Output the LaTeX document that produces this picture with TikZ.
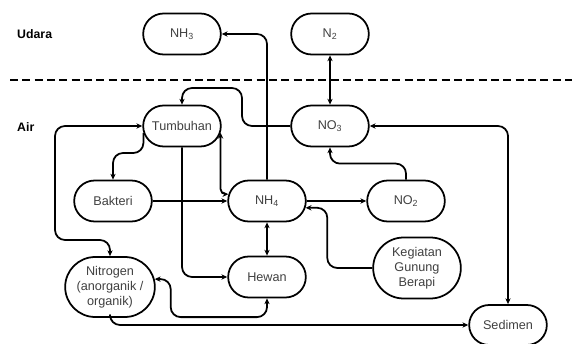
\documentclass[tikz,border=0pt]{standalone}
\usepackage{fontspec}
\setmainfont{Liberation Sans}
\usetikzlibrary{shapes.misc,arrows.meta}
\begin{document}
\begin{tikzpicture}[x=0.3mm,y=-0.3mm,>={Stealth[length=5pt,width=4.5pt]},line join=round,
    box/.style={rounded rectangle,draw,line width=1.5pt,minimum width=24mm,minimum height=12.3mm,
        text=black!75,font=\fontsize{10.8}{12.8}\selectfont,align=center,inner sep=1pt},
    zone/.style={font=\bfseries\fontsize{10.5}{12}\selectfont,anchor=west,inner sep=0pt},
    link/.style={line width=1.5pt,rounded corners=3mm}]
    \useasboundingbox (0,0) rectangle (572,344);
    % Udara / Air
    \draw[line width=1.8pt,dash pattern=on 2.4mm off 1.3mm] (10,80) -- (572,80);
    \node[zone] (udara) at (17,34) {Udara};
    \node[zone] (air) at (17,127) {Air};
    % nodes
    \node[box] (nh3) at (182,34) {NH\textsubscript{3}};
    \node[box] (n2) at (330,34) {N\textsubscript{2}};
    \node[box] (tumbuhan) at (182,126) {Tumbuhan};
    \node[box] (no3) at (330,126) {NO\textsubscript{3}};
    \node[box] (bakteri) at (113,201) {Bakteri};
    \node[box] (nh4) at (267,201) {NH\textsubscript{4}};
    \node[box] (no2) at (406,201) {NO\textsubscript{2}};
    \node[box,minimum width=27.6mm,minimum height=18mm] (nitrogen) at (110,287) {Nitrogen\\(anorganik /\\organik)};
    \node[box] (hewan) at (267,277) {Hewan};
    \node[box,minimum width=27mm,minimum height=18.3mm] (gunung) at (417,268) {Kegiatan\\Gunung\\Berapi};
    \node[box,minimum height=12mm] (sedimen) at (508,325) {Sedimen};
    % connectors
    \draw[link,->] (nh4.north) |- (nh3.east);
    \draw[link,<->] (n2) -- (no3);
    \draw[link,->] (no3.west) -- (242,126) -- (242,88) -| (tumbuhan.north);
    \draw[link,<->] (tumbuhan.west) -| (55,240) -| (nitrogen.north);
    \draw[link,->] (tumbuhan.190) |- (113,153) -- (bakteri.north);
    \draw[link,->] (tumbuhan.south) |- (hewan.west);
    \draw[link,<->,rounded corners=1.5mm] (tumbuhan.-10) |- (nh4.170);
    \draw[link,->] (bakteri) -- (nh4);
    \draw[link,->] (nh4) -- (no2);
    \draw[link,->] (gunung.west) -- ++(-45,0) |- (nh4.-10);
    \draw[link,->] (no2.north) -- ++(0,-16) -| (no3.south);
    \draw[link,<->] (no3.east) -| (sedimen.north);
    \draw[link,<->] (nh4) -- (hewan);
    \draw[link,<->] (nitrogen.10) -| ++(16,38) -| (hewan.south);
    \draw[link,->] (nitrogen.south) |- (sedimen.west);
\end{tikzpicture}
\end{document}
